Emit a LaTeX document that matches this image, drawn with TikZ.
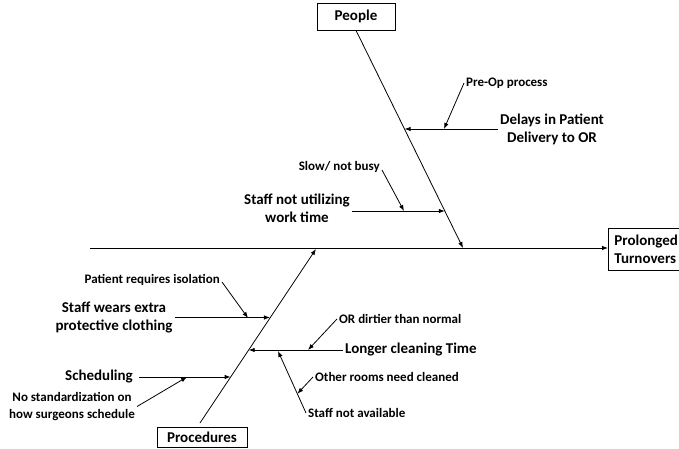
\documentclass[tikz,border=0pt]{standalone}
\usepackage{fontspec}
\setmainfont{Carlito}
\usetikzlibrary{arrows.meta,shapes}
\usetikzlibrary{positioning}
\usetikzlibrary{calc}

\tikzset{
  bone/.style={line width=0.8pt, -{Latex[length=6pt,width=4.5pt]}},
  bigtxt/.style={font=\bfseries\fontsize{15}{18}\selectfont, align=center, inner sep=2pt},
  smalltxt/.style={font=\bfseries\fontsize{13}{17}\selectfont, align=center, inner sep=2pt},
  headbox/.style={draw, line width=0.8pt, font=\bfseries\fontsize{15}{18}\selectfont, inner sep=0pt}
}

\begin{document}
\begin{tikzpicture}[x=1pt,y=-1pt]

  \useasboundingbox (0,0) rectangle (679,449);

	%heads 
  \node[headbox, minimum width=78pt, minimum height=27pt] (people) at (356,16.5) {People};
  \node[headbox, minimum width=90pt, minimum height=20pt] (proc) at (202,437) {Procedures};
  \node[headbox, anchor=west, minimum height=42pt, inner sep=6pt, align=left] (effect) at (608,249) {Prolonged\\Turnovers};

	%spine
  \coordinate (tail) at (90,248);
  \draw[bone] (tail) -- (tail -| effect.west);

	%main bones
  \coordinate (ptip) at (463,248);
  \coordinate (qtip) at (316,249);
  \draw[bone] (people.south) -- (ptip);
  \draw[bone] (200,423) coordinate (qbot) -- (qtip);

	%points on the bones
  \coordinate (p1) at ($(people.south)!0.454!(ptip)$);
  \coordinate (p2) at ($(people.south)!0.830!(ptip)$);
  \coordinate (q1) at ($(qbot)!0.603!(qtip)$);
  \coordinate (q2) at ($(qbot)!0.420!(qtip)$);
  \coordinate (q3) at ($(qbot)!0.264!(qtip)$);

	%causes
  \node[bigtxt] (delay) at (552,129) {Delays in Patient\\Delivery to OR};
  \node[bigtxt] (util) at (297,208.5) {Staff not utilizing\\work time};
  \node[bigtxt] (wear) at (114,317.5) {Staff wears extra\\protective clothing};
  \node[bigtxt, anchor=west] (clean) at (343,350) {Longer cleaning Time};
  \node[bigtxt] (sched) at (99,377) {Scheduling};

  \draw[bone] (delay.west) -- (delay.west -| p1);
  \draw[bone] (util.east |- p2) -- (p2);
  \draw[bone] (wear.east) -- (wear.east -| q1);
  \draw[bone] (clean.west) -- (clean.west -| q2);
  \draw[bone] ([xshift=4pt]sched.east) -- (sched.east -| q3);

	%sub causes
  \node[smalltxt, anchor=west] (preop) at (464,83) {Pre-Op process};
  \node[smalltxt, anchor=east] (slow) at (382,167) {Slow/ not busy};
  \node[smalltxt, anchor=east] (iso) at (222,280) {Patient requires isolation};
  \node[smalltxt, anchor=west] (dirt) at (337,319) {OR dirtier than normal};
  \node[smalltxt, anchor=west] (rooms) at (313,377) {Other rooms need cleaned};
  \node[smalltxt, anchor=west] (avail) at (306,413) {Staff not available};
  \node[smalltxt] (nostd) at (72,406.5) {No standardization on\\how surgeons schedule};

  \coordinate (d2) at (444,129);
  \coordinate (u2) at (404,211);
  \coordinate (w2) at (248,318);
  \coordinate (c2) at (308,350);
  \coordinate (c3) at (278,351);
  \coordinate (s2) at (187,377);

  \draw[bone] (preop.west) -- (d2);
  \draw[bone] ([yshift=-3pt]slow.east) -- (u2);
  \draw[bone] ([yshift=-2pt]iso.east) -- (w2);
  \draw[bone] (dirt.west) -- (c2);
  \draw[bone] (avail.west) -- (c3);
  \coordinate (a2) at ($(avail.west)!0.31!(c3)$);
  \draw[bone] (rooms.west) -- (a2);
  \draw[bone] (nostd.east) -- (s2);

\end{tikzpicture}
\end{document}
